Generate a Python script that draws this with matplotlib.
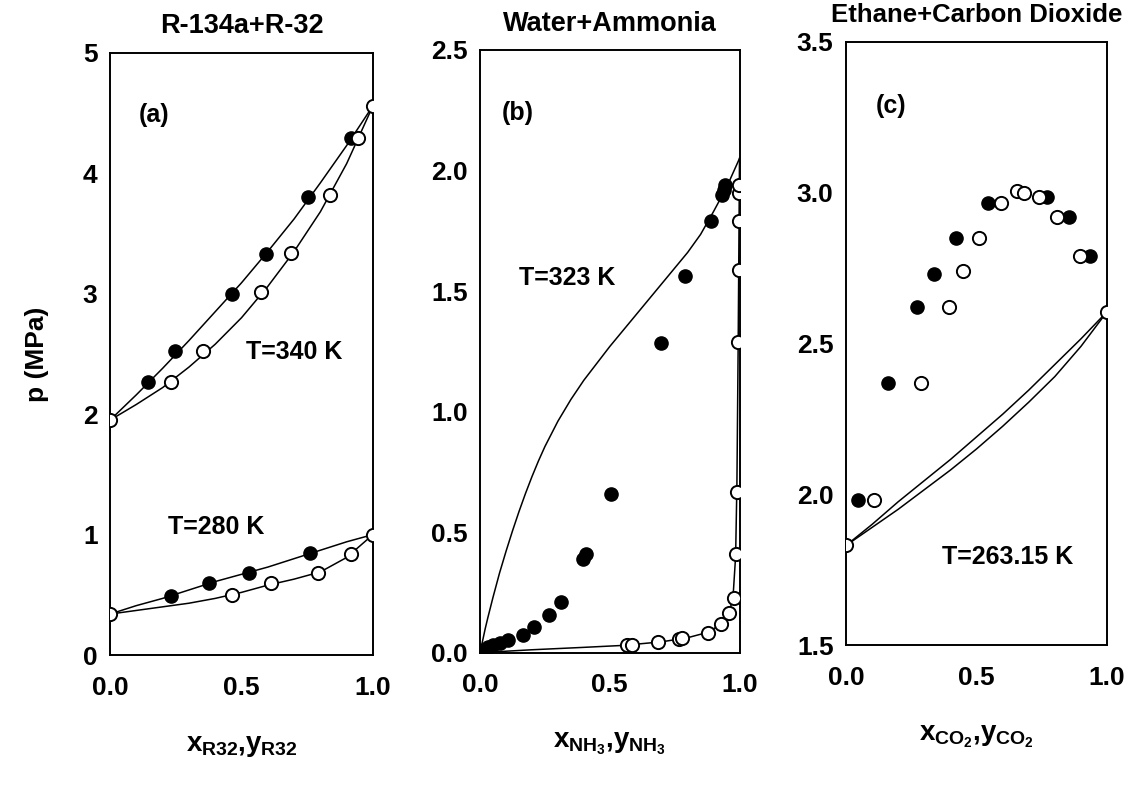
import matplotlib

matplotlib.use("Agg")
import matplotlib.pyplot as plt

# ---- panel (a): R-134a + R-32 ----
a_curve_x = [0.0, 0.1, 0.2, 0.3, 0.4, 0.5, 0.6, 0.7, 0.8, 0.9, 1.0]
a340_bubble = [1.95, 2.16, 2.38, 2.61, 2.85, 3.09, 3.35, 3.62, 3.92, 4.23, 4.56]
a340_dew = [1.95, 2.08, 2.22, 2.39, 2.58, 2.80, 3.06, 3.35, 3.68, 4.08, 4.56]
a280_bubble = [0.34, 0.41, 0.47, 0.54, 0.61, 0.67, 0.73, 0.80, 0.87, 0.94, 1.00]
a280_dew = [0.34, 0.37, 0.40, 0.43, 0.47, 0.52, 0.58, 0.63, 0.69, 0.81, 1.00]

a340_liq_x = [0.143, 0.247, 0.463, 0.592, 0.754, 0.916]
a340_liq_p = [2.27, 2.52, 3.00, 3.33, 3.80, 4.29]
a340_vap_x = [0.0, 0.232, 0.355, 0.573, 0.690, 0.836, 0.944, 1.0]
a340_vap_p = [1.95, 2.27, 2.52, 3.01, 3.34, 3.82, 4.29, 4.56]
a280_liq_x = [0.232, 0.378, 0.529, 0.760]
a280_liq_p = [0.49, 0.595, 0.683, 0.844]
a280_vap_x = [0.0, 0.463, 0.611, 0.790, 0.916, 1.0]
a280_vap_p = [0.34, 0.50, 0.60, 0.68, 0.84, 1.00]

# ---- panel (b): water + ammonia ----
b_bubble_x = [0.0, 0.01, 0.02, 0.03, 0.05, 0.075, 0.1, 0.125, 0.15, 0.175, 0.2, 0.225,
              0.25, 0.3, 0.35, 0.4, 0.5, 0.6, 0.7, 0.8, 0.85, 0.9, 0.95, 1.0]
b_bubble_p = [0.0, 0.05, 0.10, 0.145, 0.23, 0.33, 0.42, 0.505, 0.585, 0.66, 0.73, 0.795,
              0.855, 0.96, 1.05, 1.13, 1.27, 1.40, 1.53, 1.66, 1.735, 1.83, 1.93, 2.05]
b_dew_x = [0.0, 0.2, 0.4, 0.55, 0.7, 0.8, 0.88, 0.93, 0.96, 0.975, 0.985, 0.99, 0.995, 1.0]
b_dew_p = [0.0, 0.012, 0.022, 0.03, 0.045, 0.062, 0.085, 0.12, 0.165, 0.23, 0.40, 0.70, 1.30, 2.05]

b_liq_x = [0.01, 0.03, 0.051, 0.077, 0.109, 0.165, 0.208, 0.264, 0.311, 0.395,
           0.41, 0.505, 0.698, 0.788, 0.891, 0.932, 0.939, 0.946]
b_liq_p = [0.012, 0.022, 0.032, 0.039, 0.053, 0.073, 0.108, 0.156, 0.212, 0.39,
           0.41, 0.659, 1.284, 1.563, 1.79, 1.90, 1.92, 1.94]
b_vap_x = [0.566, 0.586, 0.685, 0.765, 0.778, 0.878, 0.927, 0.959, 0.978,
           0.985, 0.99, 0.995, 0.997, 0.998, 0.999, 0.999]
b_vap_p = [0.030, 0.032, 0.046, 0.056, 0.060, 0.080, 0.119, 0.163, 0.226,
           0.41, 0.668, 1.29, 1.588, 1.79, 1.906, 1.94]

# ---- panel (c): ethane + carbon dioxide ----
c_curve_x = [0.0, 0.1, 0.2, 0.3, 0.4, 0.5, 0.6, 0.7, 0.8, 0.9, 1.0]
c_upper = [1.83, 1.90, 1.975, 2.045, 2.115, 2.19, 2.265, 2.345, 2.43, 2.515, 2.605]
c_lower = [1.83, 1.89, 1.95, 2.015, 2.08, 2.15, 2.225, 2.305, 2.39, 2.49, 2.605]

c_liq_x = [0.047, 0.162, 0.271, 0.337, 0.42, 0.545, 0.769, 0.856, 0.935]
c_liq_p = [1.98, 2.37, 2.62, 2.73, 2.85, 2.965, 2.985, 2.92, 2.79]
c_vap_x = [0.0, 0.108, 0.287, 0.395, 0.449, 0.51, 0.593, 0.654, 0.683, 0.739,
           0.81, 0.897, 1.0]
c_vap_p = [1.83, 1.98, 2.37, 2.62, 2.74, 2.85, 2.965, 3.005, 3.0, 2.985,
           2.92, 2.79, 2.605]

titles = ["R-134a+R-32", "Water+Ammonia", "Ethane+Carbon Dioxide"]
title_sizes = [19.5, 19.5, 18.5]
xlabels = [r"$x_{R32}{,}y_{R32}$", r"$x_{NH_3}{,}y_{NH_3}$", r"$x_{CO_2}{,}y_{CO_2}$"]
panel_tags = ["(a)", "(b)", "(c)"]

plt.rcParams["font.family"] = ["Liberation Sans", "DejaVu Sans"]
plt.rcParams["font.weight"] = "bold"
plt.rcParams["axes.labelweight"] = "bold"
plt.rcParams["mathtext.fontset"] = "custom"
plt.rcParams["mathtext.rm"] = "Liberation Sans:bold"
plt.rcParams["mathtext.it"] = "Liberation Sans:bold"
plt.rcParams["mathtext.bf"] = "Liberation Sans:bold"

fig = plt.figure(figsize=(11.33, 7.87), dpi=100)
ax_a = fig.add_axes([0.0971, 0.1677, 0.2321, 0.7653])
ax_b = fig.add_axes([0.4237, 0.1707, 0.2290, 0.7658])
ax_c = fig.add_axes([0.7467, 0.1804, 0.2304, 0.7666])
axes = [ax_a, ax_b, ax_c]

line_kw = dict(color="black", lw=1.1, zorder=2)
liq_kw = dict(ls="none", marker="o", ms=9.5, mfc="black", mec="black", zorder=3)
vap_kw = dict(ls="none", marker="o", ms=9.5, mfc="white", mec="black", mew=1.4, zorder=4)

# (a)
ax_a.plot(a_curve_x, a340_bubble, **line_kw)
ax_a.plot(a_curve_x, a340_dew, **line_kw)
ax_a.plot(a_curve_x, a280_bubble, **line_kw)
ax_a.plot(a_curve_x, a280_dew, **line_kw)
ax_a.plot(a340_liq_x, a340_liq_p, **liq_kw)
ax_a.plot(a340_vap_x, a340_vap_p, **vap_kw)
ax_a.plot(a280_liq_x, a280_liq_p, **liq_kw)
ax_a.plot(a280_vap_x, a280_vap_p, **vap_kw)
ax_a.set_ylim(0, 5)
ax_a.set_yticks([0, 1, 2, 3, 4, 5])
ax_a.set_yticklabels(["0", "1", "2", "3", "4", "5"])
ax_a.text(0.70, 0.503, "T=340 K", transform=ax_a.transAxes, ha="center", va="center", fontsize=18)
ax_a.text(0.405, 0.213, "T=280 K", transform=ax_a.transAxes, ha="center", va="center", fontsize=18)
ax_a.set_ylabel("p (MPa)", fontsize=19, labelpad=24)

# (b)
ax_b.plot(b_bubble_x, b_bubble_p, **line_kw)
ax_b.plot(b_dew_x, b_dew_p, **line_kw)
ax_b.plot(b_liq_x, b_liq_p, **liq_kw)
ax_b.plot(b_vap_x, b_vap_p, **vap_kw)
ax_b.set_ylim(0, 2.5)
ax_b.set_yticks([0.0, 0.5, 1.0, 1.5, 2.0, 2.5])
ax_b.text(0.335, 0.621, "T=323 K", transform=ax_b.transAxes, ha="center", va="center", fontsize=18)

# (c)
ax_c.plot(c_curve_x, c_upper, **line_kw)
ax_c.plot(c_curve_x, c_lower, **line_kw)
ax_c.plot(c_liq_x, c_liq_p, **liq_kw)
ax_c.plot(c_vap_x, c_vap_p, **vap_kw)
ax_c.set_ylim(1.5, 3.5)
ax_c.set_yticks([1.5, 2.0, 2.5, 3.0, 3.5])
ax_c.text(0.62, 0.146, "T=263.15 K", transform=ax_c.transAxes, ha="center", va="center", fontsize=18)

tag_pos = [(0.167, 0.897), (0.147, 0.895), (0.172, 0.893)]
for ax, title, tsize, xlab, tag, (tx, ty) in zip(axes, titles, title_sizes, xlabels,
                                               panel_tags, tag_pos):
    ax.set_xlim(0, 1)
    ax.set_xticks([0.0, 0.5, 1.0])
    ax.set_xticklabels(["0.0", "0.5", "1.0"])
    ax.tick_params(length=0, labelsize=19, pad=9)
    ax.tick_params(axis="x", pad=15)
    for spine in ax.spines.values():
        spine.set_linewidth(1.4)
    ax.set_title(title, fontsize=tsize, fontweight="bold", pad=14)
    ax.set_xlabel(xlab, fontsize=20, labelpad=24)
    ax.text(tx, ty, tag, transform=ax.transAxes, ha="center", va="center", fontsize=18)

fig.savefig("out.png", dpi=100)
